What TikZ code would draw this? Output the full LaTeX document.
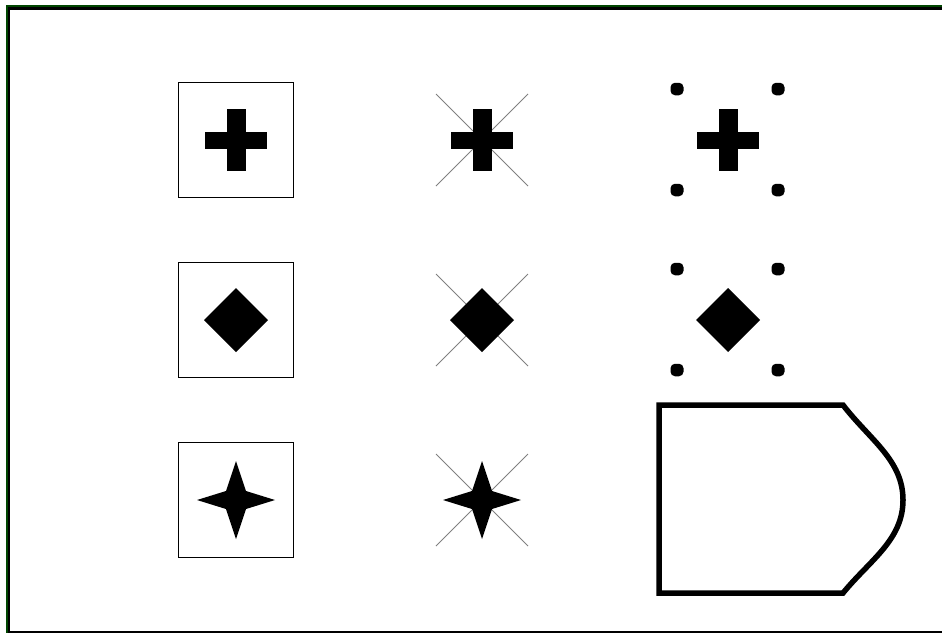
\documentclass[tikz,border=0pt]{standalone}
\usetikzlibrary{calc}
\begin{document}
\begin{tikzpicture}[x=1pt,y=-1pt,
  framebox/.style={draw=black,line width=1.3pt,minimum width=115pt,minimum height=115pt,inner sep=0pt,outer sep=0pt},
  xline/.style={draw=gray,line width=1pt},
  dotmark/.style={rectangle,rounded corners=4.5pt,fill=black,minimum width=13pt,minimum height=12.5pt,inner sep=0pt},
  glyph/.style={fill=black}]
\useasboundingbox (0,0) rectangle (942,633);
% window frame
\draw[line width=2.5pt,color={rgb,255:red,0;green,70;blue,0}] (6,6) -- (942,6);
\draw[line width=2.2pt,black] (8,8.5) -- (942,8.5);
\draw[line width=2.5pt,color={rgb,255:red,0;green,70;blue,0}] (7,5) -- (7,633);
\draw[line width=2.2pt,black] (9.3,8) -- (9.3,633);
\draw[line width=2.2pt,black] (8,632) -- (942,632);
% centres
\coordinate (c11) at (236,140);
\coordinate (c12) at (482,140);
\coordinate (c13) at (728,140);
\coordinate (c21) at (236,320);
\coordinate (c22) at (482,320);
\coordinate (c23) at (728,320);
\coordinate (c31) at (236,500);
\coordinate (c32) at (482,500);
% boxes
\node[framebox] (b11) at (c11) {};
\node[framebox] (b21) at (c21) {};
\node[framebox] (b31) at (c31) {};
% crosses
\foreach \c in {c12,c22,c32}{
  \draw[xline] ($(\c)+(-46,-46)$) -- ($(\c)+(46,46)$);
  \draw[xline] ($(\c)+(-46,46)$) -- ($(\c)+(46,-46)$);
}
% dots
\foreach \c/\n in {c13/a,c23/b}{
  \node[dotmark] (\n1) at ($(\c)+(-51,-51)$) {};
  \node[dotmark] (\n2) at ($(\c)+(50,-51)$) {};
  \node[dotmark] (\n3) at ($(\c)+(-51,50)$) {};
  \node[dotmark] (\n4) at ($(\c)+(50,50)$) {};
}
% plus glyphs
\foreach \c in {c11,c12,c13}{
  \fill[glyph] ($(\c)+(-31,-8.5)$) rectangle ($(\c)+(31,8.5)$);
  \fill[glyph] ($(\c)+(-9.5,-31)$) rectangle ($(\c)+(9.5,31)$);
}
% diamonds
\foreach \c in {c21,c22,c23}{
  \fill[glyph] ($(\c)+(-32,0)$) -- ($(\c)+(0,-32)$) -- ($(\c)+(32,0)$) -- ($(\c)+(0,32)$) -- cycle;
}
% stars
\foreach \c in {c31,c32}{
  \fill[glyph] ($(\c)+(-39,0)$) -- ($(\c)+(-10,-9)$) -- ($(\c)+(0,-39)$) -- ($(\c)+(10,-9)$)
     -- ($(\c)+(39,0)$) -- ($(\c)+(10,9)$) -- ($(\c)+(0,39)$) -- ($(\c)+(-10,9)$) -- cycle;
}
% display shape
\coordinate (s1) at (659,405);
\coordinate (s2) at (843,405);
\coordinate (s3) at (903,500);
\coordinate (s4) at (843,593);
\coordinate (s5) at (659,593);
\draw[line width=5.5pt,line join=miter] (s5) -- (s1) -- (s2)
   .. controls (870,440) and (903,460) .. (s3)
   .. controls (903,540) and (870,560) .. (s4) -- cycle;
\end{tikzpicture}
\end{document}
